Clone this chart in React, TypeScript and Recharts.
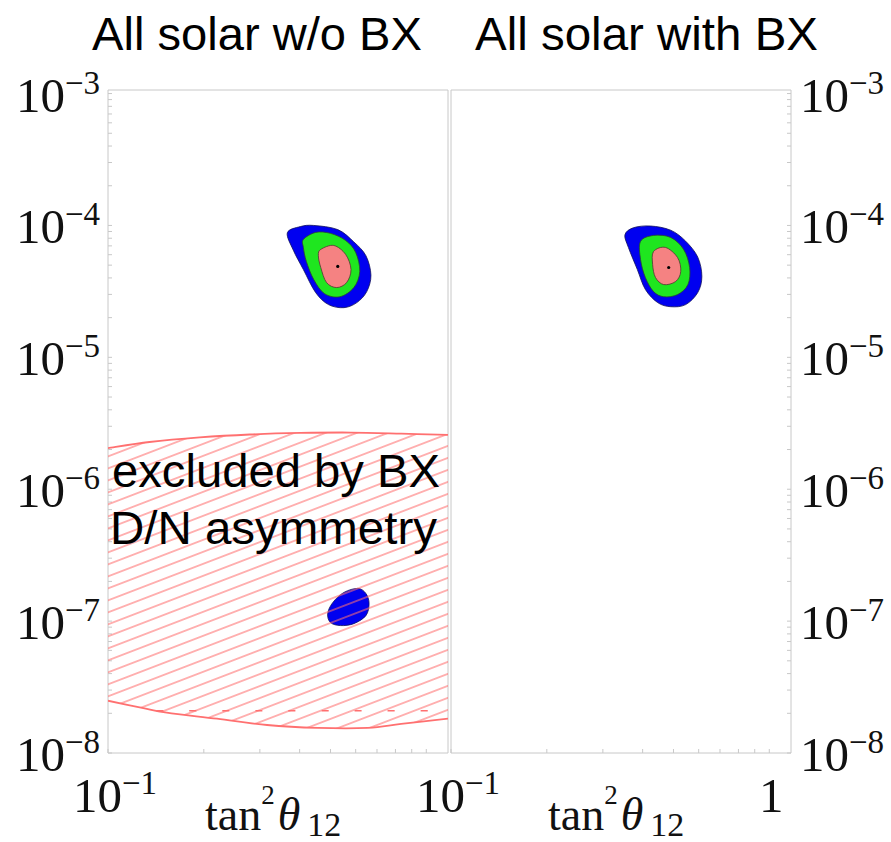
import React from 'react';
import { ScatterChart, Scatter, XAxis, YAxis } from 'recharts';

type Pt = { x: number; y: number };
const toPts = (rows: number[][]): Pt[] => rows.map(([x, y]) => ({ x, y }));

// tan^2(theta12) vs dm^2 (eV^2), log-log
const X_DOMAIN = [0.1, 1.17];
const Y_DOMAIN = [1e-8, 1.064e-3];

const X_TICKS = [0.1, 0.2, 0.3, 0.4, 0.5, 0.6, 0.7, 0.8, 0.9, 1];
const Y_TICKS = [
  1e-8, 2e-8, 3e-8, 4e-8, 5e-8, 6e-8, 7e-8, 8e-8, 9e-8,
  1e-7, 2e-7, 3e-7, 4e-7, 5e-7, 6e-7, 7e-7, 8e-7, 9e-7,
  1e-6, 2e-6, 3e-6, 4e-6, 5e-6, 6e-6, 7e-6, 8e-6, 9e-6,
  1e-5, 2e-5, 3e-5, 4e-5, 5e-5, 6e-5, 7e-5, 8e-5, 9e-5,
  1e-4, 2e-4, 3e-4, 4e-4, 5e-4, 6e-4, 7e-4, 8e-4, 9e-4,
  1e-3,
];
const Y_LABELS = [1e-8, 1e-7, 1e-6, 1e-5, 1e-4, 1e-3];
const X_LABELS_LEFT = [0.1];
const X_LABELS_RIGHT = [0.1, 1];

const TITLES = ['All solar w/o BX', 'All solar with BX'];
const EXCLUDED_TEXT = ['excluded by BX', 'D/N asymmetry'];

// allowed regions, all solar w/o BX
const BLUE_LEFT = toPts([
  [0.366, 8.8e-5], [0.402, 9.8e-5], [0.443, 1.0e-4], [0.527, 9.3e-5],
  [0.592, 7.5e-5], [0.646, 5.9e-5], [0.670, 4.2e-5], [0.650, 3.15e-5],
  [0.605, 2.6e-5], [0.551, 2.38e-5], [0.493, 2.51e-5], [0.449, 3.1e-5],
  [0.411, 4.63e-5], [0.382, 6.5e-5],
]);
const GREEN_LEFT = toPts([
  [0.411, 7.83e-5], [0.449, 8.85e-5], [0.5, 8.71e-5], [0.558, 7.69e-5],
  [0.6, 6.24e-5], [0.618, 4.48e-5], [0.592, 3.38e-5], [0.535, 2.88e-5],
  [0.479, 3.04e-5], [0.443, 3.89e-5], [0.42, 5.33e-5], [0.411, 6.81e-5],
]);
const PINK_LEFT = toPts([
  [0.466, 6.58e-5], [0.512, 7.05e-5], [0.558, 6.03e-5], [0.58, 4.63e-5],
  [0.562, 3.69e-5], [0.523, 3.38e-5], [0.486, 3.69e-5], [0.466, 4.8e-5],
  [0.458, 5.92e-5],
]);
const BEST_LEFT = toPts([[0.527, 4.89e-5]]);
const LOW_ISLAND = toPts([
  [0.49, 1.14e-7], [0.508, 1.38e-7], [0.551, 1.65e-7], [0.61, 1.77e-7],
  [0.646, 1.62e-7], [0.661, 1.36e-7], [0.646, 1.1e-7], [0.592, 9.57e-8],
  [0.538, 9.25e-8], [0.5, 9.75e-8],
]);

// region excluded by the BX day/night asymmetry
const HATCH_TOP = toPts([
  [0.1, 2.05e-6], [0.135, 2.28e-6], [0.194, 2.47e-6], [0.279, 2.6e-6],
  [0.402, 2.67e-6], [0.579, 2.69e-6], [0.834, 2.64e-6], [1.17, 2.58e-6],
]);
const HATCH_BOTTOM = toPts([
  [0.1, 2.49e-8], [0.128, 2.2e-8], [0.153, 2.02e-8], [0.22, 1.82e-8],
  [0.316, 1.63e-8], [0.455, 1.55e-8], [0.655, 1.55e-8], [0.834, 1.66e-8],
  [1.17, 1.82e-8],
]);
const HATCH_DASH = toPts([[0.142, 2.09e-8], [1.17, 2.09e-8]]);

// allowed regions, all solar with BX
const BLUE_RIGHT = toPts([
  [0.352, 8.5e-5], [0.374, 9.6e-5], [0.424, 9.9e-5], [0.49, 9.2e-5],
  [0.546, 7.6e-5], [0.596, 5.75e-5], [0.614, 4.1e-5], [0.596, 3.1e-5],
  [0.546, 2.51e-5], [0.49, 2.42e-5], [0.446, 2.6e-5], [0.408, 3.27e-5],
  [0.385, 4.63e-5], [0.361, 6.8e-5],
]);
const GREEN_RIGHT = toPts([
  [0.394, 7.57e-5], [0.433, 8.4e-5], [0.49, 8.11e-5], [0.538, 6.58e-5],
  [0.562, 4.8e-5], [0.555, 3.56e-5], [0.515, 2.99e-5], [0.466, 2.88e-5],
  [0.433, 3.15e-5], [0.408, 4.03e-5], [0.394, 5.52e-5],
]);
const PINK_RIGHT = toPts([
  [0.433, 6.35e-5], [0.472, 6.81e-5], [0.515, 5.71e-5], [0.527, 4.48e-5],
  [0.508, 3.76e-5], [0.466, 3.56e-5], [0.439, 4.03e-5], [0.43, 5.06e-5],
]);
const BEST_RIGHT = toPts([[0.483, 4.8e-5]]);

const BLUE = '#0000f0';
const GREEN = '#1fe61f';
const PINK = '#f58282';
const HATCH_RED = '#ff7070';
const FRAME = '#c8c8c8';
const SERIF = '"Liberation Serif", "DejaVu Serif", serif';
const SANS = '"Liberation Sans", Arial, sans-serif';

const W = 891;
const H = 842;
const TOP = 91;
const BOTTOM = 752;

// Catmull-Rom through the scaled points, as cubic Beziers
function smoothPath(pts: { x: number; y: number }[], closed: boolean, move = true) {
  const n = pts.length;
  const get = (i: number) => (closed ? pts[(i + n) % n] : pts[Math.max(0, Math.min(n - 1, i))]);
  let d = `${move ? 'M' : 'L'}${pts[0].x},${pts[0].y}`;
  const segs = closed ? n : n - 1;
  for (let i = 0; i < segs; i++) {
    const p0 = get(i - 1);
    const p1 = get(i);
    const p2 = get(i + 1);
    const p3 = get(i + 2);
    const c1x = p1.x + (p2.x - p0.x) / 6;
    const c1y = p1.y + (p2.y - p0.y) / 6;
    const c2x = p2.x - (p3.x - p1.x) / 6;
    const c2y = p2.y - (p3.y - p1.y) / 6;
    d += ` C${c1x},${c1y} ${c2x},${c2y} ${p2.x},${p2.y}`;
  }
  return closed ? d + ' Z' : d;
}

const noDot = () => <g />;

function blob(key: string, data: Pt[], fill: string, stroke: string) {
  return (
    <Scatter
      key={key}
      data={data}
      xAxisId="b"
      yAxisId="l"
      isAnimationActive={false}
      shape={noDot}
      line={(p: any) => (
        <path d={smoothPath(p.points, true)} fill={fill} stroke={stroke} strokeWidth={0.8} />
      )}
    />
  );
}

function curve(key: string, data: Pt[], stroke: string, width: number, dash?: string) {
  return (
    <Scatter
      key={key}
      data={data}
      xAxisId="b"
      yAxisId="l"
      isAnimationActive={false}
      shape={noDot}
      line={(p: any) => (
        <path d={smoothPath(p.points, false)} fill="none" stroke={stroke} strokeWidth={width} strokeDasharray={dash} />
      )}
    />
  );
}

function bestFit(key: string, data: Pt[]) {
  return (
    <Scatter
      key={key}
      data={data}
      xAxisId="b"
      yAxisId="l"
      isAnimationActive={false}
      shape={(p: any) => <circle cx={p.cx} cy={p.cy} r={1.6} fill="#000" />}
    />
  );
}

const hatchRegion = [...HATCH_TOP, ...HATCH_BOTTOM.slice().reverse()];

function hatch() {
  const k = HATCH_TOP.length;
  return (
    <Scatter
      key="hatch"
      data={hatchRegion}
      xAxisId="b"
      yAxisId="l"
      isAnimationActive={false}
      shape={noDot}
      line={(p: any) => {
        const pts = p.points;
        const d = smoothPath(pts.slice(0, k), false) + ' ' + smoothPath(pts.slice(k), false, false) + ' Z';
        return <path d={d} fill="url(#bxHatch)" stroke="none" />;
      }}
    />
  );
}

function PowerText({ x, y, value, anchor }: { x: number; y: number; value: number; anchor: 'start' | 'end' | 'middle' }) {
  const e = Math.round(Math.log10(value));
  if (e === 0) {
    return (
      <text x={x} y={y} fontFamily={SERIF} fontSize={49} fill="#111" textAnchor={anchor}>
        1
      </text>
    );
  }
  return (
    <text x={x} y={y} fontFamily={SERIF} fontSize={49} fill="#111" textAnchor={anchor}>
      10
      <tspan dy={-18} fontSize={33}>
        {'\u2212' + Math.abs(e)}
      </tspan>
    </text>
  );
}

const isLabel = (list: number[], v: number) => list.some((t) => Math.abs(t - v) / t < 1e-6);

function yTick(labelX: number, anchor: 'start' | 'end') {
  return (props: any) => {
    const v = props.payload.value;
    if (!isLabel(Y_LABELS, v)) return <g />;
    return <PowerText x={labelX} y={props.payload.coordinate + 18} value={v} anchor={anchor} />;
  };
}

function xTick(labels: number[]) {
  return (props: any) => {
    const v = props.payload.value;
    if (!isLabel(labels, v)) return <g />;
    const c = props.payload.coordinate;
    if (v === 1) return <PowerText x={c + 2} y={812} value={v} anchor="middle" />;
    return <PowerText x={c - 35} y={812} value={v} anchor="start" />;
  };
}

// frame: four mirrored log axes, 1px thick so they get drawn
function frameAxes(left: boolean) {
  const line = { stroke: FRAME, strokeWidth: 1 };
  const tl = { stroke: FRAME, strokeWidth: 1 };
  return [
    <XAxis
      key="xb"
      xAxisId="b"
      dataKey="x"
      type="number"
      scale="log"
      domain={X_DOMAIN}
      allowDataOverflow
      ticks={X_TICKS}
      interval={0}
      orientation="bottom"
      height={1}
      mirror
      tickSize={4}
      axisLine={line}
      tickLine={tl}
      tick={xTick(left ? X_LABELS_LEFT : X_LABELS_RIGHT)}
    />,
    <XAxis
      key="xt"
      xAxisId="t"
      dataKey="x"
      type="number"
      scale="log"
      domain={X_DOMAIN}
      allowDataOverflow
      ticks={X_TICKS}
      interval={0}
      orientation="top"
      height={1}
      mirror
      tickSize={4}
      axisLine={line}
      tickLine={tl}
      tick={false}
    />,
    <YAxis
      key="yl"
      yAxisId="l"
      dataKey="y"
      type="number"
      scale="log"
      domain={Y_DOMAIN}
      allowDataOverflow
      ticks={Y_TICKS}
      interval={0}
      orientation="left"
      width={1}
      mirror
      tickSize={4}
      axisLine={line}
      tickLine={tl}
      tick={left ? yTick(100, 'end') : false}
    />,
    <YAxis
      key="yr"
      yAxisId="r"
      dataKey="y"
      type="number"
      scale="log"
      domain={Y_DOMAIN}
      allowDataOverflow
      ticks={Y_TICKS}
      interval={0}
      orientation="right"
      width={1}
      mirror
      tickSize={4}
      axisLine={line}
      tickLine={tl}
      tick={left ? false : yTick(800, 'start')}
    />,
  ];
}

const layer: React.CSSProperties = { position: 'absolute', left: 0, top: 0 };

function AxisTitle({ x }: { x: number }) {
  return (
    <text x={x} y={830} fontFamily={SERIF} fontSize={46} fill="#111">
      tan
      <tspan dy={-26} fontSize={27}>2</tspan>
      <tspan dy={26} fontStyle="italic" dx={3}>θ</tspan>
      <tspan dy={6} fontSize={34} dx={7}>12</tspan>
    </text>
  );
}

export default function App() {
  return (
    <div style={{ position: 'absolute', left: 0, top: 0, width: W, height: H, background: '#fff', overflow: 'hidden' }}>
      <svg width={0} height={0} style={{ position: 'absolute' }}>
        <defs>
          <pattern id="bxHatch" patternUnits="userSpaceOnUse" width={40} height={11.2} patternTransform="rotate(-21)">
            <line x1={0} y1={5.6} x2={40} y2={5.6} stroke={HATCH_RED} strokeWidth={1.4} strokeOpacity={0.75} />
          </pattern>
        </defs>
      </svg>

      <div style={layer}>
        <ScatterChart width={W} height={H} margin={{ top: TOP - 1, right: W - 447 - 1, bottom: H - BOTTOM - 1, left: 109 - 1 }}>
          {frameAxes(true)}
          {blob('blueL', BLUE_LEFT, BLUE, '#10105a')}
          {blob('greenL', GREEN_LEFT, GREEN, '#2a4a2a')}
          {blob('pinkL', PINK_LEFT, PINK, '#553333')}
          {bestFit('bestL', BEST_LEFT)}
          {blob('low', LOW_ISLAND, BLUE, '#10105a')}
          {hatch()}
          {curve('top', HATCH_TOP, HATCH_RED, 1.8)}
          {curve('bottom', HATCH_BOTTOM, HATCH_RED, 1.8)}
          {curve('dash', HATCH_DASH, HATCH_RED, 1.6, '7 26')}
        </ScatterChart>
      </div>

      <div style={layer}>
        <ScatterChart width={W} height={H} margin={{ top: TOP - 1, right: W - 790 - 1, bottom: H - BOTTOM - 1, left: 452 - 1 }}>
          {frameAxes(false)}
          {blob('blueR', BLUE_RIGHT, BLUE, '#10105a')}
          {blob('greenR', GREEN_RIGHT, GREEN, '#2a4a2a')}
          {blob('pinkR', PINK_RIGHT, PINK, '#553333')}
          {bestFit('bestR', BEST_RIGHT)}
        </ScatterChart>
      </div>

      <svg width={W} height={H} style={{ ...layer, pointerEvents: 'none' }}>
        <text x={92} y={50} fontFamily={SANS} fontSize={46} textLength={330} lengthAdjust="spacingAndGlyphs" fill="#000">
          {TITLES[0]}
        </text>
        <text x={475} y={50} fontFamily={SANS} fontSize={46} textLength={343} lengthAdjust="spacingAndGlyphs" fill="#000">
          {TITLES[1]}
        </text>
        <text x={112} y={487} fontFamily={SANS} fontSize={46} textLength={328} lengthAdjust="spacingAndGlyphs" fill="#000">
          {EXCLUDED_TEXT[0]}
        </text>
        <text x={110} y={544} fontFamily={SANS} fontSize={46} textLength={327} lengthAdjust="spacingAndGlyphs" fill="#000">
          {EXCLUDED_TEXT[1]}
        </text>
        <AxisTitle x={205} />
        <AxisTitle x={548} />
      </svg>
    </div>
  );
}
